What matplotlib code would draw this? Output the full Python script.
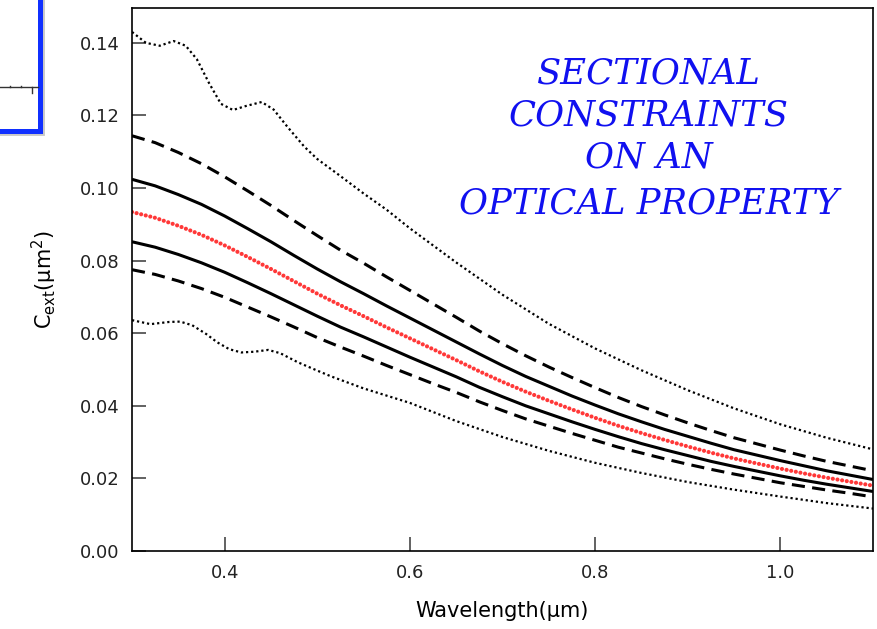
import matplotlib
matplotlib.use("Agg")
import matplotlib.pyplot as plt
from matplotlib.lines import Line2D
from matplotlib.patches import Rectangle

# wavelength grid (um) shared by the smooth curves
wavelength = [0.300, 0.325, 0.350, 0.375, 0.400, 0.425, 0.450, 0.475, 0.500, 0.525, 0.550,
              0.575, 0.600, 0.625, 0.650, 0.675, 0.700, 0.725, 0.750, 0.775, 0.800, 0.825,
              0.850, 0.875, 0.900, 0.925, 0.950, 0.975, 1.000, 1.025, 1.050, 1.075, 1.100]

c_ext_central = [0.0934, 0.0918, 0.0896, 0.0871, 0.0842, 0.0810, 0.0777, 0.0743, 0.0709, 0.0677,
                 0.0647, 0.0616, 0.0586, 0.0556, 0.0526, 0.0495, 0.0466, 0.0439, 0.0414, 0.0390,
                 0.0367, 0.0345, 0.0325, 0.0306, 0.0288, 0.0271, 0.0255, 0.0241, 0.0227, 0.0214,
                 0.0202, 0.0191, 0.0180]
c_ext_solid_hi = [0.1024, 0.1006, 0.0982, 0.0955, 0.0923, 0.0888, 0.0852, 0.0814, 0.0777, 0.0742,
                  0.0709, 0.0675, 0.0642, 0.0609, 0.0576, 0.0543, 0.0511, 0.0481, 0.0454, 0.0427,
                  0.0402, 0.0378, 0.0356, 0.0335, 0.0316, 0.0297, 0.0279, 0.0264, 0.0249, 0.0235,
                  0.0221, 0.0209, 0.0197]
c_ext_solid_lo = [0.0852, 0.0837, 0.0817, 0.0794, 0.0768, 0.0739, 0.0709, 0.0678, 0.0647, 0.0617,
                  0.0590, 0.0562, 0.0534, 0.0507, 0.0480, 0.0451, 0.0425, 0.0400, 0.0378, 0.0356,
                  0.0335, 0.0315, 0.0296, 0.0279, 0.0263, 0.0247, 0.0233, 0.0220, 0.0207, 0.0195,
                  0.0184, 0.0174, 0.0164]
c_ext_dash_hi = [0.1144, 0.1125, 0.1098, 0.1067, 0.1031, 0.0992, 0.0952, 0.0910, 0.0869, 0.0829,
                 0.0793, 0.0755, 0.0718, 0.0681, 0.0644, 0.0606, 0.0571, 0.0538, 0.0507, 0.0478,
                 0.0450, 0.0423, 0.0398, 0.0375, 0.0353, 0.0332, 0.0312, 0.0295, 0.0278, 0.0262,
                 0.0247, 0.0234, 0.0221]
c_ext_dash_lo = [0.0775, 0.0762, 0.0744, 0.0723, 0.0699, 0.0672, 0.0645, 0.0617, 0.0588, 0.0562,
                 0.0537, 0.0511, 0.0486, 0.0461, 0.0437, 0.0411, 0.0387, 0.0364, 0.0344, 0.0324,
                 0.0305, 0.0286, 0.0270, 0.0254, 0.0239, 0.0225, 0.0212, 0.0200, 0.0188, 0.0178,
                 0.0168, 0.0159, 0.0149]

# outer (dotted) bounds wiggle in the blue, so they are sampled more finely there
wavelength_dot_hi = [0.300, 0.315, 0.330, 0.345, 0.358, 0.370, 0.383, 0.396, 0.409, 0.423,
                     0.440, 0.453, 0.468, 0.486, 0.500, 0.525, 0.550, 0.575, 0.600, 0.650,
                     0.700, 0.750, 0.800, 0.850, 0.900, 0.950, 1.000, 1.050, 1.100]
c_ext_dot_hi = [0.1430, 0.1400, 0.1392, 0.1405, 0.1392, 0.1355, 0.1290, 0.1232, 0.1215, 0.1226,
                0.1237, 0.1216, 0.1168, 0.1114, 0.1080, 0.1033, 0.0985, 0.0940, 0.0889, 0.0795,
                0.0706, 0.0626, 0.0558, 0.0498, 0.0443, 0.0393, 0.0349, 0.0312, 0.0280]

wavelength_dot_lo = [0.300, 0.320, 0.340, 0.352, 0.365, 0.380, 0.392, 0.405, 0.418, 0.432,
                     0.447, 0.460, 0.479, 0.500, 0.515, 0.550, 0.600, 0.650, 0.700, 0.750,
                     0.800, 0.850, 0.900, 0.950, 1.000, 1.050, 1.100]
c_ext_dot_lo = [0.0636, 0.0625, 0.0631, 0.0632, 0.0622, 0.0598, 0.0575, 0.0556, 0.0547, 0.0549,
                0.0554, 0.0545, 0.0520, 0.0497, 0.0481, 0.0448, 0.0408, 0.0358, 0.0314, 0.0276,
                0.0243, 0.0215, 0.0190, 0.0169, 0.0150, 0.0132, 0.0117]

x_ticks = [0.4, 0.6, 0.8, 1.0]
y_ticks = [0.00, 0.02, 0.04, 0.06, 0.08, 0.10, 0.12, 0.14]
note_lines = ["SECTIONAL", "CONSTRAINTS", "ON AN", "OPTICAL PROPERTY"]

W, H = 877, 629
fig = plt.figure(figsize=(W / 100, H / 100), dpi=100)
ax = fig.add_axes([132 / W, 1 - 551 / H, 741 / W, 543 / H])

solid = dict(color="black", lw=2.2, solid_capstyle="butt")
dashed = dict(color="black", lw=2.2, linestyle=(0, (4.3, 2.4)))
dotted = dict(color="black", lw=1.6, linestyle=(0, (1.0, 1.3)))

ax.plot(wavelength_dot_hi, c_ext_dot_hi, **dotted)
ax.plot(wavelength_dot_lo, c_ext_dot_lo, **dotted)
ax.plot(wavelength, c_ext_dash_hi, **dashed)
ax.plot(wavelength, c_ext_dash_lo, **dashed)
ax.plot(wavelength, c_ext_solid_hi, **solid)
ax.plot(wavelength, c_ext_solid_lo, **solid)
ax.plot(wavelength, c_ext_central, color="#ff3838", lw=3.0,
        linestyle=(0, (0.01, 1.12)), dash_capstyle="round")

ax.set_xlim(0.3, 1.1)
ax.set_ylim(0.0, 0.1496)
ax.set_xticks(x_ticks)
ax.set_xticklabels([f"{v:.1f}" for v in x_ticks])
ax.set_yticks(y_ticks)
ax.set_yticklabels([f"{v:.2f}" for v in y_ticks])
ax.tick_params(direction="in", length=10, width=1.3, color="#555555",
               labelsize=13, labelcolor="#222222", pad=9)
for side in ax.spines.values():
    side.set_linewidth(1.2)

ax.set_xlabel("Wavelength(\u03bcm)", fontsize=15, labelpad=14)
ax.set_ylabel("C$_{\\mathrm{ext}}$(\u03bcm$^2$)", fontsize=15, labelpad=15)

line_y = [73, 116, 158, 203]
for text, py in zip(note_lines, line_y):
    ax.text(0.697, 1 - (py - 8) / 543, text, transform=ax.transAxes,
            ha="center", va="center", fontsize=25.5, color="#1010f0",
            family="DejaVu Serif", style="italic")

# clipped inset frame peeking in at the top-left corner
def px(x, y):
    return x / W, 1 - y / H

x0, y0 = px(-10, -10)
x1, y1 = px(40, 131.5)
fig.add_artist(Rectangle((x0 + 2 / W, y1 - 2 / H), x1 - x0, y0 - y1, transform=fig.transFigure,
                         facecolor="none", edgecolor="#c8c8c8", lw=3.5))
fig.add_artist(Rectangle((x0, y1), x1 - x0, y0 - y1, transform=fig.transFigure,
                         facecolor="white", edgecolor="#1030ff", lw=3.6))
for seg in [((0, 87.3), (37.5, 87.3)), ((31.7, 87.3), (31.7, 93)),
            ((10, 86), (10, 87.3)), ((21, 86), (21, 87.3))]:
    (ax_, ay), (bx, by) = seg
    p0, p1 = px(ax_, ay), px(bx, by)
    fig.add_artist(Line2D([p0[0], p1[0]], [p0[1], p1[1]], transform=fig.transFigure,
                          color="#333333", lw=1.0))

fig.savefig("out.png", dpi=100)
